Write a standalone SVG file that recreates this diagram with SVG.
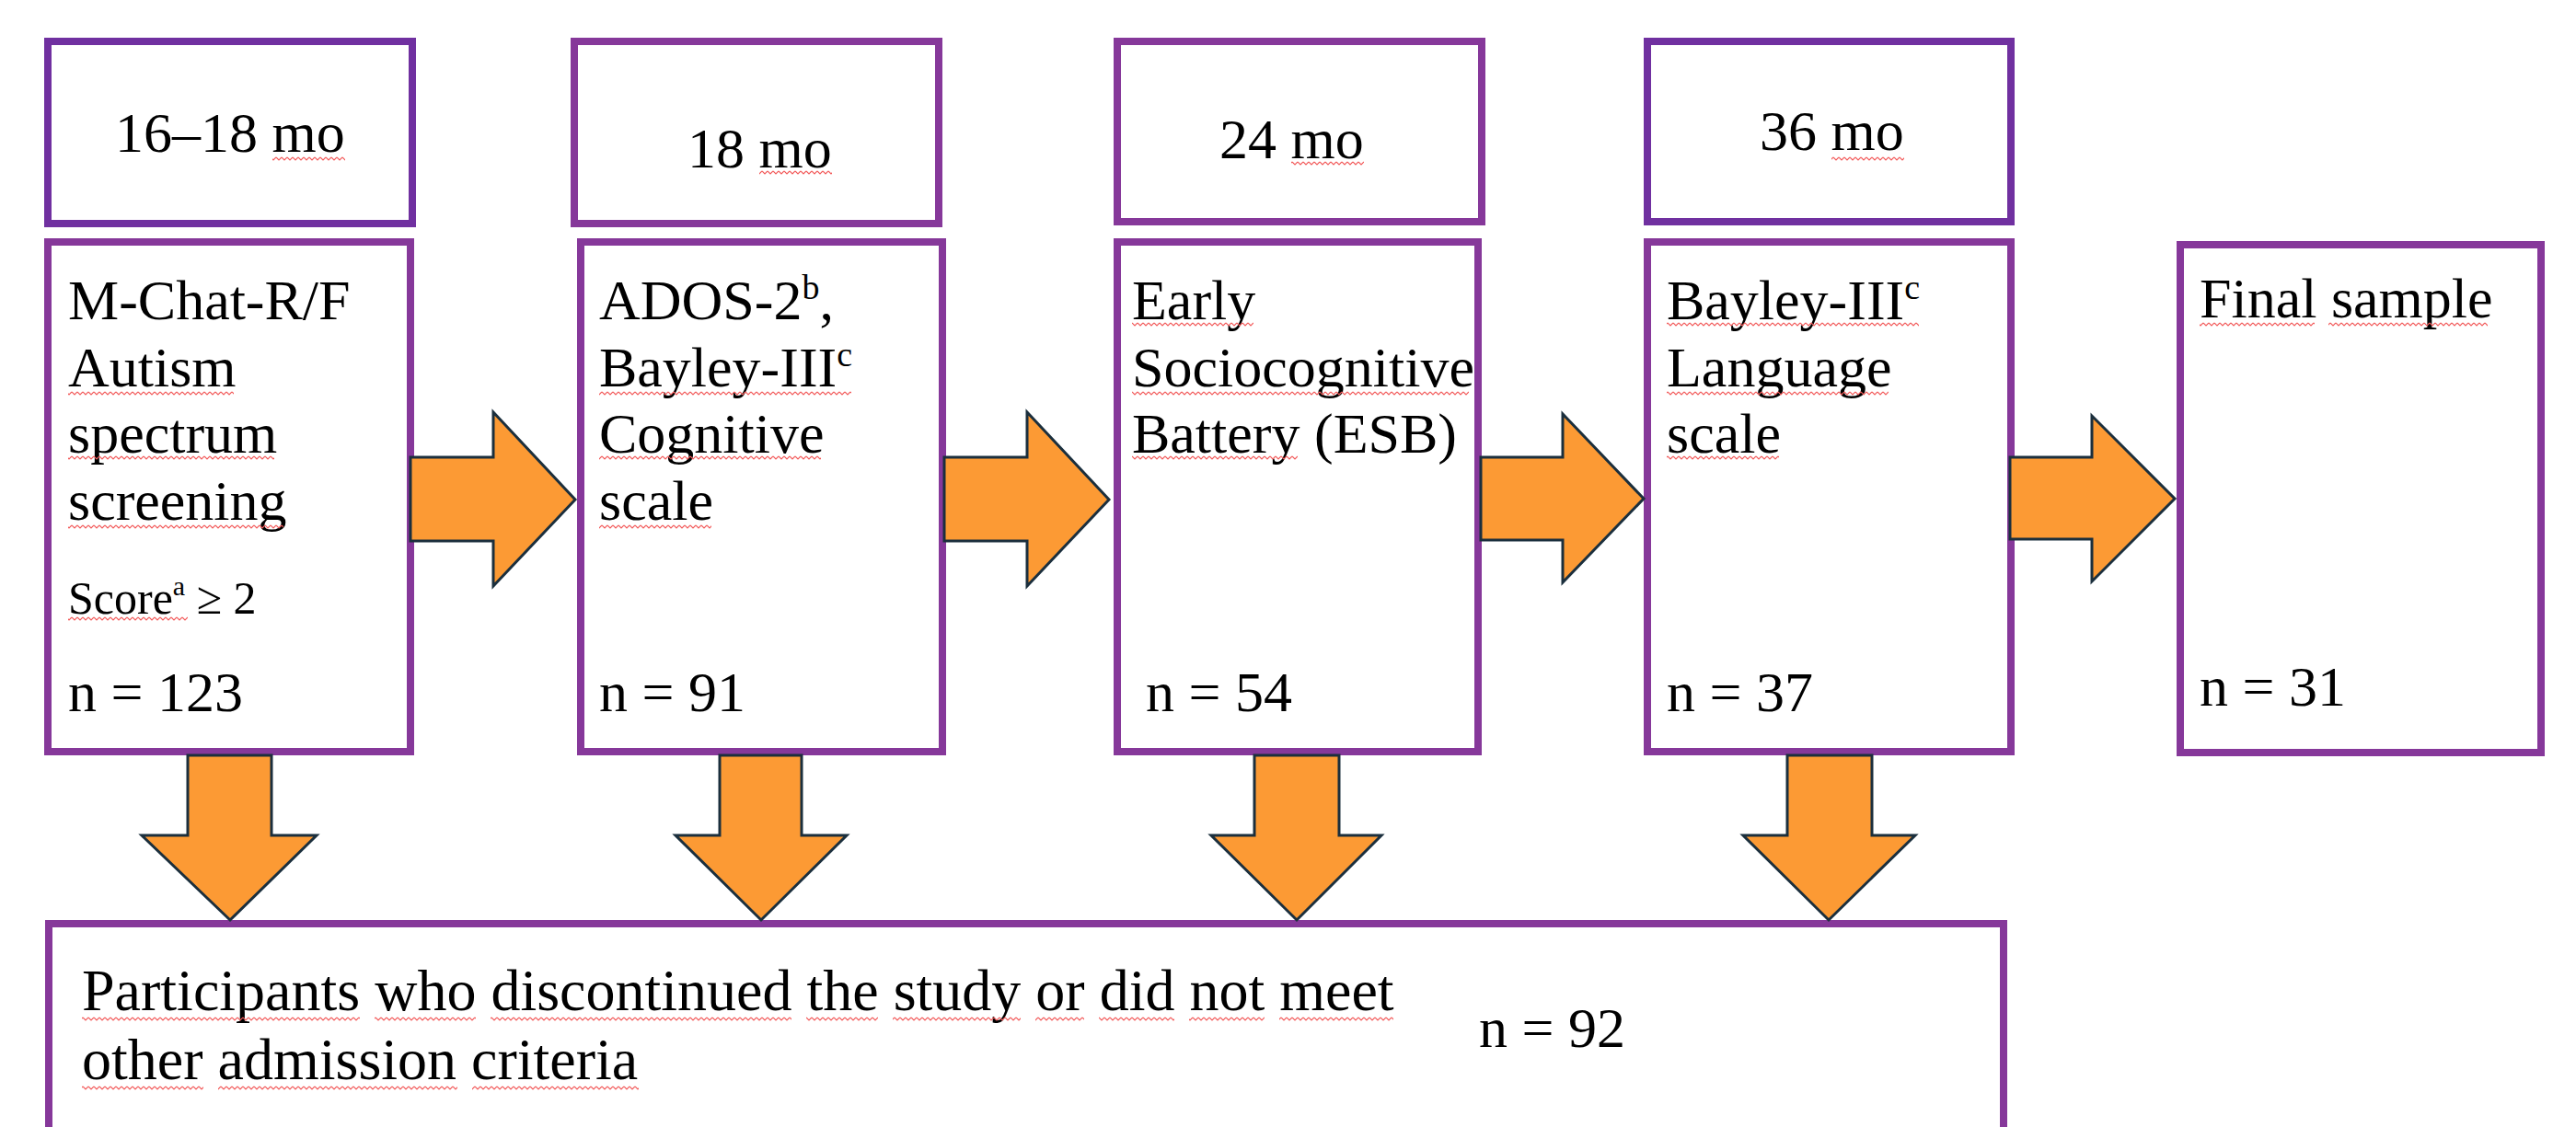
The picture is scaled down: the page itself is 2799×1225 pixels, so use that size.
<svg xmlns="http://www.w3.org/2000/svg" width="2799" height="1225" viewBox="0 0 2799 1225">
<style>
.box{fill:#fff;stroke:#86389a;stroke-width:8}
.box.dk{stroke:#7030a0}
.t{font-family:"Liberation Serif","Times New Roman",serif;font-size:62px;fill:#000}
.sm{font-size:50px}
.bt{font-size:64px}
.arr{fill:#fc9a34;stroke:#1b2f3d;stroke-width:3;stroke-linejoin:miter}
.sq{fill:url(#squig)}
</style>
<defs>
<pattern id="squig" patternUnits="userSpaceOnUse" width="6" height="5">
<path d="M0 1 L3 4 L6 1" fill="none" stroke="#f25a5a" stroke-width="1.2"/>
</pattern>
</defs>
<rect width="2799" height="1225" fill="#fff"/>

<g id="t1"><rect class="box dk" x="52" y="45" width="396" height="198"/><text class="t" x="125" y="165">16–18 mo</text><rect class="sq" x="296" y="170" width="79" height="5"/></g>
<g id="t2"><rect class="box" x="624" y="45" width="396" height="198"/><text class="t" x="747" y="182">18 mo</text><rect class="sq" x="825" y="185" width="79" height="5"/></g>
<g id="t3"><rect class="box" x="1214" y="45" width="396" height="196"/><text class="t" x="1325" y="172">24 mo</text><rect class="sq" x="1403" y="175" width="79" height="5"/></g>
<g id="t4"><rect class="box dk" x="1790" y="45" width="395" height="196"/><text class="t" x="1912" y="163">36 mo</text><rect class="sq" x="1990" y="170" width="79" height="5"/></g>

<g id="m1"><rect class="box" x="52" y="263" width="394" height="554"/>
<text class="t" x="74" y="347">M-Chat-R/F</text>
<text class="t" x="74" y="420">Autism</text>
<text class="t" x="74" y="492">spectrum</text>
<text class="t" x="74" y="565">screening</text>
<text class="t sm" x="74" y="667">Score<tspan font-size="30" dy="-20">a</tspan><tspan dy="20"> ≥ 2</tspan></text>
<text class="t" x="74" y="773">n = 123</text>
<rect class="sq" x="74" y="425" width="180" height="5"/>
<rect class="sq" x="74" y="495" width="224" height="5"/>
<rect class="sq" x="74" y="570" width="234" height="5"/>
<rect class="sq" x="74" y="670" width="130" height="5"/>
</g>

<g id="m2"><rect class="box" x="631" y="263" width="393" height="554"/>
<text class="t" x="651" y="347">ADOS-2<tspan font-size="38" dy="-22">b</tspan><tspan dy="22">,</tspan></text>
<text class="t" x="651" y="420">Bayley-III<tspan font-size="38" dy="-22">c</tspan></text>
<text class="t" x="651" y="492">Cognitive</text>
<text class="t" x="651" y="565">scale</text>
<text class="t" x="651" y="773">n = 91</text>
<rect class="sq" x="651" y="425" width="274" height="5"/>
<rect class="sq" x="651" y="495" width="241" height="5"/>
<rect class="sq" x="651" y="570" width="122" height="5"/>
</g>

<g id="m3"><rect class="box" x="1214" y="263" width="392" height="554"/>
<text class="t" x="1230" y="347">Early</text>
<text class="t" x="1230" y="420">Sociocognitive</text>
<text class="t" x="1230" y="492">Battery (ESB)</text>
<text class="t" x="1245" y="773">n = 54</text>
<rect class="sq" x="1230" y="350" width="132" height="5"/>
<rect class="sq" x="1230" y="425" width="366" height="5"/>
<rect class="sq" x="1230" y="495" width="180" height="5"/>
</g>

<g id="m4"><rect class="box" x="1790" y="263" width="395" height="554"/>
<text class="t" x="1811" y="347">Bayley-III<tspan font-size="38" dy="-22">c</tspan></text>
<text class="t" x="1811" y="420">Language</text>
<text class="t" x="1811" y="492">scale</text>
<text class="t" x="1811" y="773">n = 37</text>
<rect class="sq" x="1811" y="350" width="274" height="5"/>
<rect class="sq" x="1811" y="425" width="241" height="5"/>
<rect class="sq" x="1811" y="495" width="122" height="5"/>
</g>

<g id="final"><rect class="box" x="2369" y="266" width="392" height="552"/>
<text class="t" x="2390" y="345">Final sample</text>
<text class="t" x="2390" y="767">n = 31</text>
<rect class="sq" x="2390" y="350" width="125" height="5"/>
<rect class="sq" x="2530" y="350" width="173" height="5"/>
</g>

<g id="excluded"><rect class="box" x="53" y="1004" width="2124" height="400"/>
<text class="t bt" x="89" y="1098">Participants who discontinued the study or did not meet</text>
<text class="t bt" x="89" y="1173">other admission criteria</text>
<text class="t" x="1607" y="1138">n = 92</text>
<rect class="sq" x="89" y="1105" width="302" height="5"/>
<rect class="sq" x="407" y="1105" width="110" height="5"/>
<rect class="sq" x="533" y="1105" width="327" height="5"/>
<rect class="sq" x="876" y="1105" width="78" height="5"/>
<rect class="sq" x="970" y="1105" width="139" height="5"/>
<rect class="sq" x="1125" y="1105" width="53" height="5"/>
<rect class="sq" x="1194" y="1105" width="82" height="5"/>
<rect class="sq" x="1292" y="1105" width="82" height="5"/>
<rect class="sq" x="1390" y="1105" width="124" height="5"/>
<rect class="sq" x="89" y="1180" width="132" height="5"/>
<rect class="sq" x="237" y="1180" width="260" height="5"/>
<rect class="sq" x="513" y="1180" width="181" height="5"/>
</g>

<g id="connectors">
<polygon class="arr" points="446,497 536,497 536,448 625,543 536,637 536,588 446,588"/>
<polygon class="arr" points="1026,497 1116,497 1116,448 1205,543 1116,637 1116,588 1026,588"/>
<polygon class="arr" points="1609,497 1698,497 1698,450 1786,542 1698,633 1698,587 1609,587"/>
<polygon class="arr" points="2184,497 2273,497 2273,452 2363,542 2273,632 2273,586 2184,586"/>
<polygon class="arr" points="204,821 295,821 295,908 344,908 250,1000 154,908 204,908"/>
<polygon class="arr" points="782,821 871,821 871,908 920,908 827,1000 734,908 782,908"/>
<polygon class="arr" points="1363,821 1455,821 1455,908 1501,908 1409,1000 1316,908 1363,908"/>
<polygon class="arr" points="1942,821 2034,821 2034,908 2081,908 1987,1000 1894,908 1942,908"/>
</g>
</svg>
